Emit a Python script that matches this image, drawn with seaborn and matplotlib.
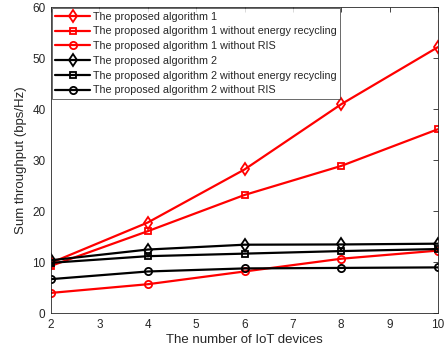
import matplotlib
matplotlib.use("Agg")
import matplotlib.pyplot as plt
import seaborn as sns
import pandas as pd

devices = [2, 4, 6, 8, 10]
alg1 = [9.9, 17.8, 28.2, 41.0, 52.2]
alg1_no_er = [9.3, 16.1, 23.2, 28.9, 36.1]
alg1_no_ris = [4.0, 5.7, 8.2, 10.7, 12.3]
alg2 = [10.4, 12.5, 13.45, 13.5, 13.65]
alg2_no_er = [9.9, 11.2, 11.7, 12.2, 12.6]
alg2_no_ris = [6.7, 8.2, 8.8, 8.9, 9.0]

labels = [
    "The proposed algorithm 1",
    "The proposed algorithm 1 without energy recycling",
    "The proposed algorithm 1 without RIS",
    "The proposed algorithm 2",
    "The proposed algorithm 2 without energy recycling",
    "The proposed algorithm 2 without RIS",
]
series = [alg1, alg1_no_er, alg1_no_ris, alg2, alg2_no_er, alg2_no_ris]
colors = ["#ff0000", "#ff0000", "#ff0000", "#000000", "#000000", "#000000"]
markers = ["d", "s", "o", "d", "s", "o"]
msizes = {"d": 6, "s": 4.8, "o": 5.2}

sns.set_style("white")
plt.rcParams["font.family"] = ["Liberation Sans", "DejaVu Sans"]

fig = plt.figure(figsize=(4.45, 3.54), dpi=100)
ax = fig.add_axes([51 / 445, 1 - 313.3 / 354, 387 / 445, 306 / 354])

for lab, vals, c, m in zip(labels, series, colors, markers):
    df = pd.DataFrame({"x": devices, "y": vals})
    sns.lineplot(data=df, x="x", y="y", ax=ax, color=c, marker=m,
                 markersize=msizes[m], markerfacecolor="none",
                 markeredgecolor=c, markeredgewidth=1.3, linewidth=1.6,
                 label=lab)

ax.set_xlim(2, 10)
ax.set_ylim(0, 60)
ax.set_xticks(range(2, 11))
ax.set_yticks(range(0, 61, 10))
ax.set_xlabel("The number of IoT devices", fontsize=9.5, color="#262626", labelpad=2)
ax.set_ylabel("Sum throughput (bps/Hz)", fontsize=9.5, color="#262626", labelpad=4)
ax.tick_params(direction="in", top=True, right=True, length=3.5, width=0.6,
               labelsize=8.5, colors="#262626", pad=4)
for s in ax.spines.values():
    s.set_color("#262626")
    s.set_linewidth(0.6)

leg = ax.legend(loc="upper left", fontsize=7.75, frameon=True, fancybox=False,
                borderaxespad=0.05, handlelength=3.2, labelspacing=0.44,
                borderpad=0.35, handletextpad=0.3)
leg.get_frame().set_edgecolor("#262626")
leg.get_frame().set_linewidth(0.6)

fig.savefig("out.png", dpi=100)
